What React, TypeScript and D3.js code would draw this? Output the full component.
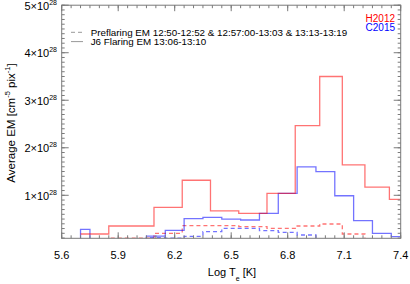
import React from "react";
import * as d3 from "d3";

// ---- data (EM in units of 1e28) ----
const redEdges = [5.7, 5.85, 6.09, 6.24, 6.39, 6.54, 6.69, 6.84, 6.97, 7.09, 7.21, 7.34, 7.4];
const redFlare = [0.185, 0.354, 0.747, 1.316, 0.67, 0.62, 1.04, 2.465, 3.5, 1.64, 1.17, 0.916];
const redPre = [0.0, 0.1, 0.2, 0.36, 0.36, 0.34, 0.305, 0.354, 0.396, 0.185, 0.0, 0.0];

const blueEdges = [5.65, 5.7, 5.75, 5.85, 5.95, 6.05, 6.15, 6.25, 6.35, 6.45, 6.55, 6.65, 6.75, 6.85, 6.95, 7.05, 7.15, 7.25, 7.35, 7.4];
const blueFlare = [0.0, 0.284, 0.05, 0.05, 0.05, 0.14, 0.263, 0.507, 0.537, 0.5, 0.48, 0.62, 1.04, 1.6, 1.5, 0.99, 0.465, 0.2, 0.13];
const bluePre = [0.0, 0.0, 0.0, 0.0, 0.0, 0.11, 0.1, 0.137, 0.234, 0.305, 0.305, 0.255, 0.221, 0.164, 0.0, 0.0, 0.0, 0.0, 0.0];

const xMajorTicks = [5.6, 5.9, 6.2, 6.5, 6.8, 7.1, 7.4];
const yMajorTicks = [1, 2, 3, 4, 5];
const legendPre = "Preflaring EM 12:50-12:52 & 12:57:00-13:03 & 13:13-13:19";
const legendFlare = "J6 Flaring EM 13:06-13:10";
const eventNames = ["H2012", "C2015"];

const W = 410, H = 284;
const L = 61.7, R = 400.7, T = 5.2, B = 238.3;

export default function App() {
  const x = d3.scaleLinear().domain([5.6, 7.4]).range([L, R]);
  const y = d3.scaleLinear().domain([0.095, 5]).range([B, T]);

  const stepPath = (edges: number[], vals: number[]) => {
    const pts: [number, number][] = vals.map((v, i) => [edges[i], v]);
    pts.push([edges[edges.length - 1], vals[vals.length - 1]]);
    return d3
      .line<[number, number]>()
      .x((d) => x(d[0]))
      .y((d) => y(d[1]))
      .curve(d3.curveStepAfter)(pts) as string;
  };

  const xMinor = d3.range(5.6, 7.4001, 0.05);
  const yMinor = d3.range(0.1, 5.0001, 0.1);
  const axisColor = "#7a7a7a";
  const font = "Liberation Sans, Arial, sans-serif";
  const red = "rgba(255,0,0,0.55)";
  const blue = "rgba(0,0,255,0.55)";

  return (
    <svg
      width={W}
      height={H}
      style={{ position: "fixed", left: 0, top: 0, background: "#fff" }}
      fontFamily={font}
    >
      <defs>
        <clipPath id="plotclip">
          <rect x={L} y={T} width={R - L} height={B - T} />
        </clipPath>
      </defs>
      <rect x={0} y={0} width={W} height={H} fill="#fff" />

      {/* data */}
      <g clipPath="url(#plotclip)" fill="none" strokeWidth={1.3}>
        <path d={stepPath(redEdges, redPre)} stroke={red} strokeDasharray="4,3" />
        <path d={stepPath(blueEdges, bluePre)} stroke={blue} strokeDasharray="4,3" />
        <path d={stepPath(blueEdges, blueFlare)} stroke={blue} />
        <path d={stepPath(redEdges, redFlare)} stroke={red} />
      </g>

      {/* frame */}
      <rect x={L} y={T} width={R - L} height={B - T} fill="none" stroke={axisColor} strokeWidth={1} />

      {/* ticks */}
      <g stroke={axisColor} strokeWidth={1}>
        {xMinor.map((v, i) => (
          <g key={"xm" + i}>
            <line x1={x(v)} x2={x(v)} y1={B} y2={B - 3} />
            <line x1={x(v)} x2={x(v)} y1={T} y2={T + 3} />
          </g>
        ))}
        {xMajorTicks.map((v, i) => (
          <g key={"xM" + i}>
            <line x1={x(v)} x2={x(v)} y1={B} y2={B - 6} />
            <line x1={x(v)} x2={x(v)} y1={T} y2={T + 6} />
          </g>
        ))}
        {yMinor.map((v, i) => (
          <g key={"ym" + i}>
            <line x1={L} x2={L + 3} y1={y(v)} y2={y(v)} />
            <line x1={R} x2={R - 3} y1={y(v)} y2={y(v)} />
          </g>
        ))}
        {yMajorTicks.map((v, i) => (
          <g key={"yM" + i}>
            <line x1={L} x2={L + 7} y1={y(v)} y2={y(v)} />
            <line x1={R} x2={R - 7} y1={y(v)} y2={y(v)} />
          </g>
        ))}
      </g>

      {/* x tick labels */}
      <g fontSize={11} fill="#000" textAnchor="middle">
        {xMajorTicks.map((v, i) => (
          <text key={"xl" + i} x={x(v)} y={258.7}>
            {v.toFixed(1)}
          </text>
        ))}
      </g>

      {/* y tick labels */}
      <g fontSize={11} fill="#000" textAnchor="end">
        {yMajorTicks.map((v, i) => (
          <text key={"yl" + i} x={57} y={y(v) + 4.5}>
            <tspan>{v}×10</tspan>
            <tspan dy={-5} fontSize={7}>28</tspan>
          </text>
        ))}
      </g>

      {/* axis titles */}
      <text x={232} y={275.5} fontSize={11} textAnchor="middle" fill="#000">
        <tspan>Log T</tspan>
        <tspan dy={5} fontSize={7}>e</tspan>
        <tspan dy={-5}> [K]</tspan>
      </text>
      <text
        transform="translate(15,123) rotate(-90)"
        fontSize={11.5}
        textAnchor="middle"
        fill="#000"
      >
        <tspan>Average EM [cm</tspan>
        <tspan dy={-5} fontSize={7.5}>-5</tspan>
        <tspan dy={5}> pix</tspan>
        <tspan dy={-5} fontSize={7.5}>-1</tspan>
        <tspan dy={5}>]</tspan>
      </text>

      {/* legend */}
      <line x1={71} x2={83} y1={32.3} y2={32.3} stroke="#999" strokeWidth={1} strokeDasharray="4,3" />
      <line x1={71} x2={83} y1={41.6} y2={41.6} stroke="#999" strokeWidth={1} />
      <text x={90.7} y={35.5} fontSize={9.8} fill="#000">{legendPre}</text>
      <text x={90.7} y={45} fontSize={9.8} fill="#000">{legendFlare}</text>

      <text x={395} y={21.5} fontSize={10} fill="#ff0000" textAnchor="end">{eventNames[0]}</text>
      <text x={395} y={31} fontSize={10} fill="#0000ff" textAnchor="end">{eventNames[1]}</text>
    </svg>
  );
}
